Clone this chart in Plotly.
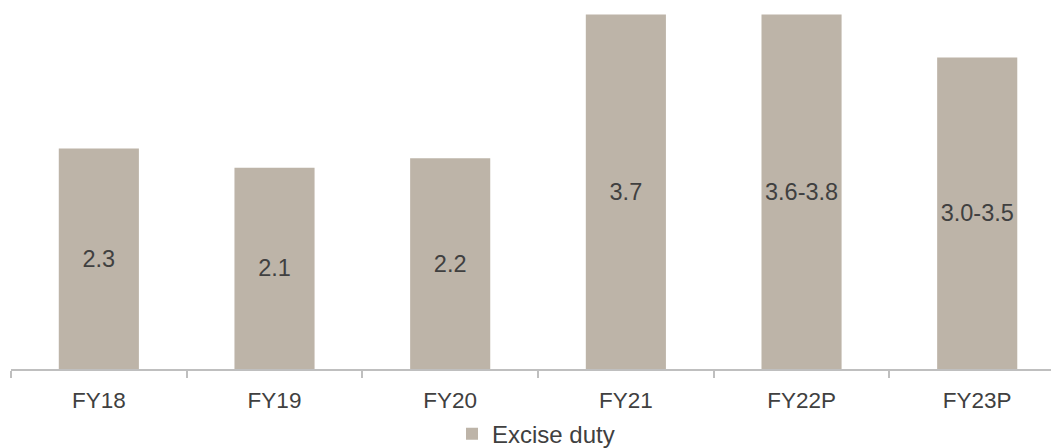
import plotly.graph_objects as go

# Excise duty collections by fiscal year (P = projected)
categories = ["FY18", "FY19", "FY20", "FY21", "FY22P", "FY23P"]
values = [2.3, 2.1, 2.2, 3.7, 3.7, 3.25]
value_labels = ["2.3", "2.1", "2.2", "3.7", "3.6-3.8", "3.0-3.5"]

BAR_COLOR = "#BDB4A8"
TEXT_COLOR = "#404040"
AXIS_COLOR = "#BFBFBF"
FONT = "Liberation Sans, Arial, sans-serif"

fig = go.Figure(
    go.Bar(
        x=categories,
        y=values,
        name="Excise duty",
        marker=dict(color=BAR_COLOR, line=dict(width=0)),
        width=0.456,
        text=value_labels,
        textposition="inside",
        insidetextanchor="middle",
        constraintext="none",
        textfont=dict(family=FONT, size=23.5, color=TEXT_COLOR),
        hoverinfo="x+y",
    )
)

fig.update_layout(
    width=1051,
    height=448,
    margin=dict(l=11, r=0, t=0, b=79, autoexpand=False),
    paper_bgcolor="white",
    plot_bgcolor="white",
    font=dict(family=FONT, size=22, color=TEXT_COLOR),
    showlegend=True,
    legend=dict(
        orientation="h",
        xref="container",
        yref="container",
        x=0.510,
        y=0.031,
        xanchor="center",
        yanchor="middle",
        font=dict(family=FONT, size=24, color=TEXT_COLOR),
        bgcolor="rgba(0,0,0,0)",
    ),
    xaxis=dict(
        type="category",
        range=[-0.5, 5.42],
        showline=True,
        linecolor=AXIS_COLOR,
        linewidth=2,
        ticks="outside",
        tickson="boundaries",
        ticklen=7,
        tickwidth=1.5,
        tickcolor=AXIS_COLOR,
        ticklabelstandoff=10,
        tickfont=dict(family=FONT, size=22.5, color=TEXT_COLOR),
        showgrid=False,
        zeroline=False,
    ),
    yaxis=dict(
        range=[0, 3.85],
        visible=False,
        showgrid=False,
        zeroline=False,
    ),
)

fig.write_html("out.html")
